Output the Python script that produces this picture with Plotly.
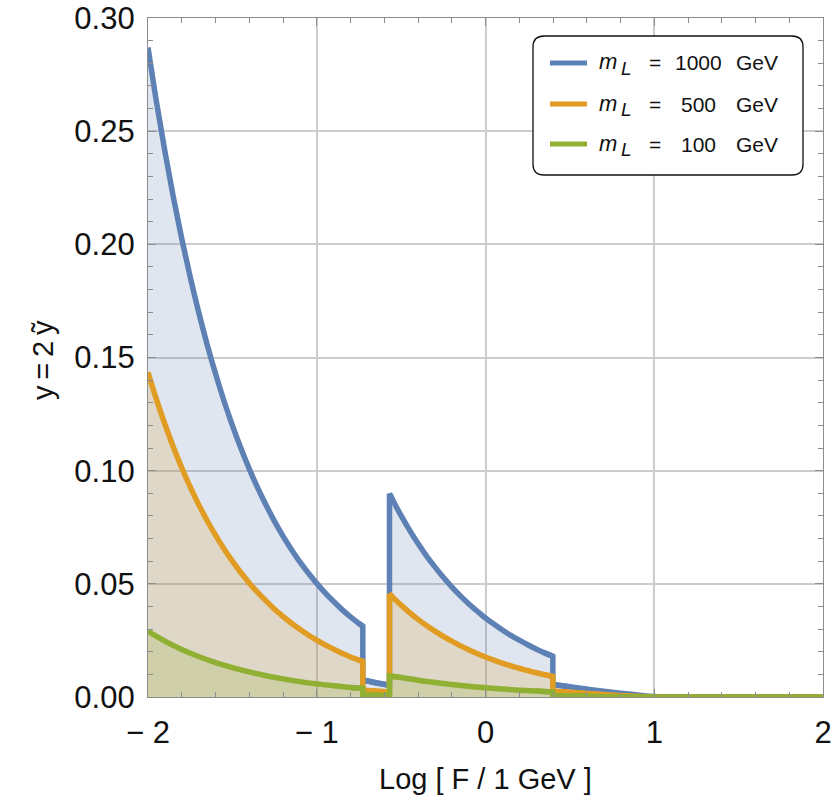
import plotly.graph_objects as go

# Coupling y = 2*y~ versus log10(F / 1 GeV) for three lepton masses
x_1000 = [-2.0, -1.95, -1.9, -1.85, -1.8, -1.75, -1.7, -1.65, -1.6, -1.55, -1.5,
          -1.45, -1.4, -1.35, -1.3, -1.25, -1.2, -1.15, -1.1, -1.05, -1.0,
          -0.95, -0.9, -0.85, -0.8, -0.75, -0.727,
          -0.727, -0.65, -0.569,
          -0.569, -0.55, -0.5, -0.45, -0.4, -0.35, -0.3, -0.25, -0.2, -0.15, -0.1,
          -0.05, 0.0, 0.05, 0.1, 0.15, 0.2, 0.25, 0.3, 0.35, 0.399,
          0.399, 0.5, 0.6, 0.7, 0.8, 0.9, 1.0, 1.2, 1.5, 2.0]
y_1000 = [0.2870, 0.2630, 0.2411, 0.2209, 0.2025, 0.1856, 0.1701, 0.1559, 0.1429, 0.1309, 0.1200,
          0.1100, 0.1008, 0.0924, 0.0847, 0.0776, 0.0711, 0.0652, 0.0597, 0.0548, 0.0502,
          0.0460, 0.0422, 0.0386, 0.0354, 0.0325, 0.0313,
          0.0075, 0.0063, 0.0052,
          0.0898, 0.0870, 0.0801, 0.0737, 0.0678, 0.0624, 0.0575, 0.0529, 0.0487, 0.0448, 0.0412,
          0.0380, 0.0349, 0.0322, 0.0296, 0.0272, 0.0251, 0.0231, 0.0212, 0.0195, 0.0180,
          0.0055, 0.0045, 0.0035, 0.0026, 0.0017, 0.0009, 0.0002, 0.0, 0.0, 0.0]

x_500 = [-2.0, -1.95, -1.9, -1.85, -1.8, -1.75, -1.7, -1.65, -1.6, -1.55, -1.5,
         -1.45, -1.4, -1.35, -1.3, -1.25, -1.2, -1.15, -1.1, -1.05, -1.0,
         -0.95, -0.9, -0.85, -0.8, -0.75, -0.727,
         -0.727, -0.65, -0.569,
         -0.569, -0.55, -0.5, -0.45, -0.4, -0.35, -0.3, -0.25, -0.2, -0.15, -0.1,
         -0.05, 0.0, 0.05, 0.1, 0.15, 0.2, 0.25, 0.3, 0.35, 0.399,
         0.399, 0.5, 0.6, 0.7, 0.8, 0.9, 1.0, 2.0]
y_500 = [0.1435, 0.1315, 0.1206, 0.1105, 0.1013, 0.0928, 0.0851, 0.0780, 0.0715, 0.0655, 0.0600,
         0.0550, 0.0504, 0.0462, 0.0424, 0.0388, 0.0356, 0.0326, 0.0299, 0.0274, 0.0251,
         0.0230, 0.0211, 0.0193, 0.0177, 0.0163, 0.0157,
         0.0030, 0.0026, 0.0022,
         0.0455, 0.0441, 0.0406, 0.0373, 0.0343, 0.0316, 0.0291, 0.0268, 0.0247, 0.0227, 0.0209,
         0.0192, 0.0177, 0.0163, 0.0150, 0.0138, 0.0127, 0.0117, 0.0107, 0.0099, 0.0091,
         0.0026, 0.0021, 0.0016, 0.0011, 0.0007, 0.0003, 0.0, 0.0]

x_100 = [-2.0, -1.9, -1.8, -1.7, -1.6, -1.5, -1.4, -1.3, -1.2, -1.1, -1.0, -0.9, -0.8, -0.727,
         -0.727, -0.569,
         -0.569, -0.5, -0.4, -0.3, -0.2, -0.1, 0.0, 0.1, 0.2, 0.3, 0.399,
         0.399, 0.6, 0.8, 1.0, 2.0]
y_100 = [0.0290, 0.0247, 0.0210, 0.0179, 0.0152, 0.0130, 0.0111, 0.0094, 0.0080, 0.0068,
         0.0058, 0.0050, 0.0042, 0.0038,
         0.0008, 0.0006,
         0.0093, 0.0086, 0.0074, 0.0064, 0.0055, 0.0047, 0.0041, 0.0035, 0.0030, 0.0026, 0.0022,
         0.0005, 0.0003, 0.0001, 0.0, 0.0]

mass_labels = ["1000", "500", "100"]
x_tickvals = [-2, -1, 0, 1, 2]
x_ticktext = ["\u2212 2", "\u2212 1", "0", "1", "2"]
y_tickvals = [0.0, 0.05, 0.10, 0.15, 0.20, 0.25, 0.30]
y_ticktext = ["0.00", "0.05", "0.10", "0.15", "0.20", "0.25", "0.30"]

colors = ["#5E81B5", "#E19C24", "#8FB032"]
fills = ["rgba(94,129,181,0.2)", "rgba(225,156,36,0.2)", "rgba(143,176,50,0.2)"]
series = [(x_1000, y_1000), (x_500, y_500), (x_100, y_100)]

FONT = "Liberation Sans, Arial, sans-serif"
INK = "#111111"
FRAME = "#8c8c8c"
LW = 5.5

fig = go.Figure()
for (xs, ys), c, fc, m in zip(series, colors, fills, mass_labels):
    # shaded region down to the axis
    fig.add_trace(go.Scatter(
        x=xs, y=ys, mode="lines", line=dict(width=0, color=c),
        fill="tozeroy", fillcolor=fc, showlegend=False, hoverinfo="skip",
    ))
    # the curve jumps where an x value repeats; smooth each branch separately
    jumps = [i for i in range(len(xs) - 1) if xs[i] == xs[i + 1]]
    starts = [0] + [j + 1 for j in jumps]
    ends = [j + 1 for j in jumps] + [len(xs)]
    for s, e in zip(starts, ends):
        fig.add_trace(go.Scatter(
            x=xs[s:e], y=ys[s:e], mode="lines", name=m,
            line=dict(color=c, width=LW, shape="spline", smoothing=1.0),
            showlegend=False,
        ))
    # vertical steps joining the branches
    jx, jy = [], []
    for j in jumps:
        jx += [xs[j - 1], xs[j], xs[j + 1], xs[j + 2], None]
        jy += [ys[j - 1], ys[j], ys[j + 1], ys[j + 2], None]
    fig.add_trace(go.Scatter(
        x=jx, y=jy, mode="lines", line=dict(color=c, width=LW),
        showlegend=False, hoverinfo="skip",
    ))

axis_common = dict(
    automargin=False,
    showline=True, linecolor=FRAME, linewidth=1.2, mirror="allticks",
    ticks="inside", ticklen=8, tickwidth=1.2, tickcolor=FRAME,
    showgrid=True, gridcolor="#cccccc", gridwidth=1.6, zeroline=False,
    tickfont=dict(family=FONT, size=31, color=INK),
)

fig.update_xaxes(
    range=[-2, 2], tickvals=x_tickvals, ticktext=x_ticktext, ticklabelstandoff=8,
    minor=dict(dtick=0.2, ticks="inside", ticklen=5, tickcolor=FRAME, showgrid=False),
    **axis_common,
)
fig.update_yaxes(
    range=[0, 0.30], tickvals=y_tickvals, ticktext=y_ticktext, ticklabelstandoff=6,
    minor=dict(dtick=0.01, ticks="inside", ticklen=5, tickcolor=FRAME, showgrid=False),
    **axis_common,
)

# plot-area edges in pixels, used to place the hand-built legend and titles
W, H = 834, 798
L, R, T, B = 148, 823, 18, 697


def paper_x(p):
    return (p - L) / (R - L)


def paper_y(p):
    return (B - p) / (B - T)


def pp(xp, yp):
    return f"{paper_x(xp):.5f},{paper_y(yp):.5f}"


# legend box with rounded corners
x0, x1, y0, y1, r = 533, 803, 36, 175, 11
path = (f"M {pp(x0 + r, y0)} L {pp(x1 - r, y0)} Q {pp(x1, y0)} {pp(x1, y0 + r)} "
        f"L {pp(x1, y1 - r)} Q {pp(x1, y1)} {pp(x1 - r, y1)} L {pp(x0 + r, y1)} "
        f"Q {pp(x0, y1)} {pp(x0, y1 - r)} L {pp(x0, y0 + r)} Q {pp(x0, y0)} {pp(x0 + r, y0)} Z")
shapes = [dict(type="path", xref="paper", yref="paper", path=path,
               line=dict(color=INK, width=1.3), fillcolor="white", layer="above")]
annotations = []


def note(xp, yp, text, size, anchor="center", **kw):
    annotations.append(dict(xref="paper", yref="paper", x=paper_x(xp), y=paper_y(yp),
                            text=text, showarrow=False, xanchor=anchor, yanchor="middle",
                            font=dict(family=FONT, size=size, color=INK), **kw))


rows_y = [63, 104, 144]
for ry, c, m in zip(rows_y, colors, mass_labels):
    shapes.append(dict(type="line", xref="paper", yref="paper",
                       x0=paper_x(550), x1=paper_x(587), y0=paper_y(ry), y1=paper_y(ry),
                       line=dict(color=c, width=5), layer="above"))
    note(597, ry - 1, "<i>m</i>", 22, "left")
    note(619, ry + 6, "<i>L</i>", 19, "left")
    note(655, ry, "=", 21)
    note(698, ry, m, 21)
    note(734, ry, "GeV", 21, "left")

# axis titles
note(485, 779, "Log [ F / 1 GeV ]", 29)
note(43, 360, "y\u2009=\u20092\u2009\u1ef9", 29, textangle=-90)

fig.update_layout(
    width=W, height=H,
    margin=dict(l=L, r=W - R, t=T, b=H - B, pad=0),
    paper_bgcolor="white", plot_bgcolor="white",
    shapes=shapes, annotations=annotations,
    showlegend=False,
)

fig.write_html("out.html")
